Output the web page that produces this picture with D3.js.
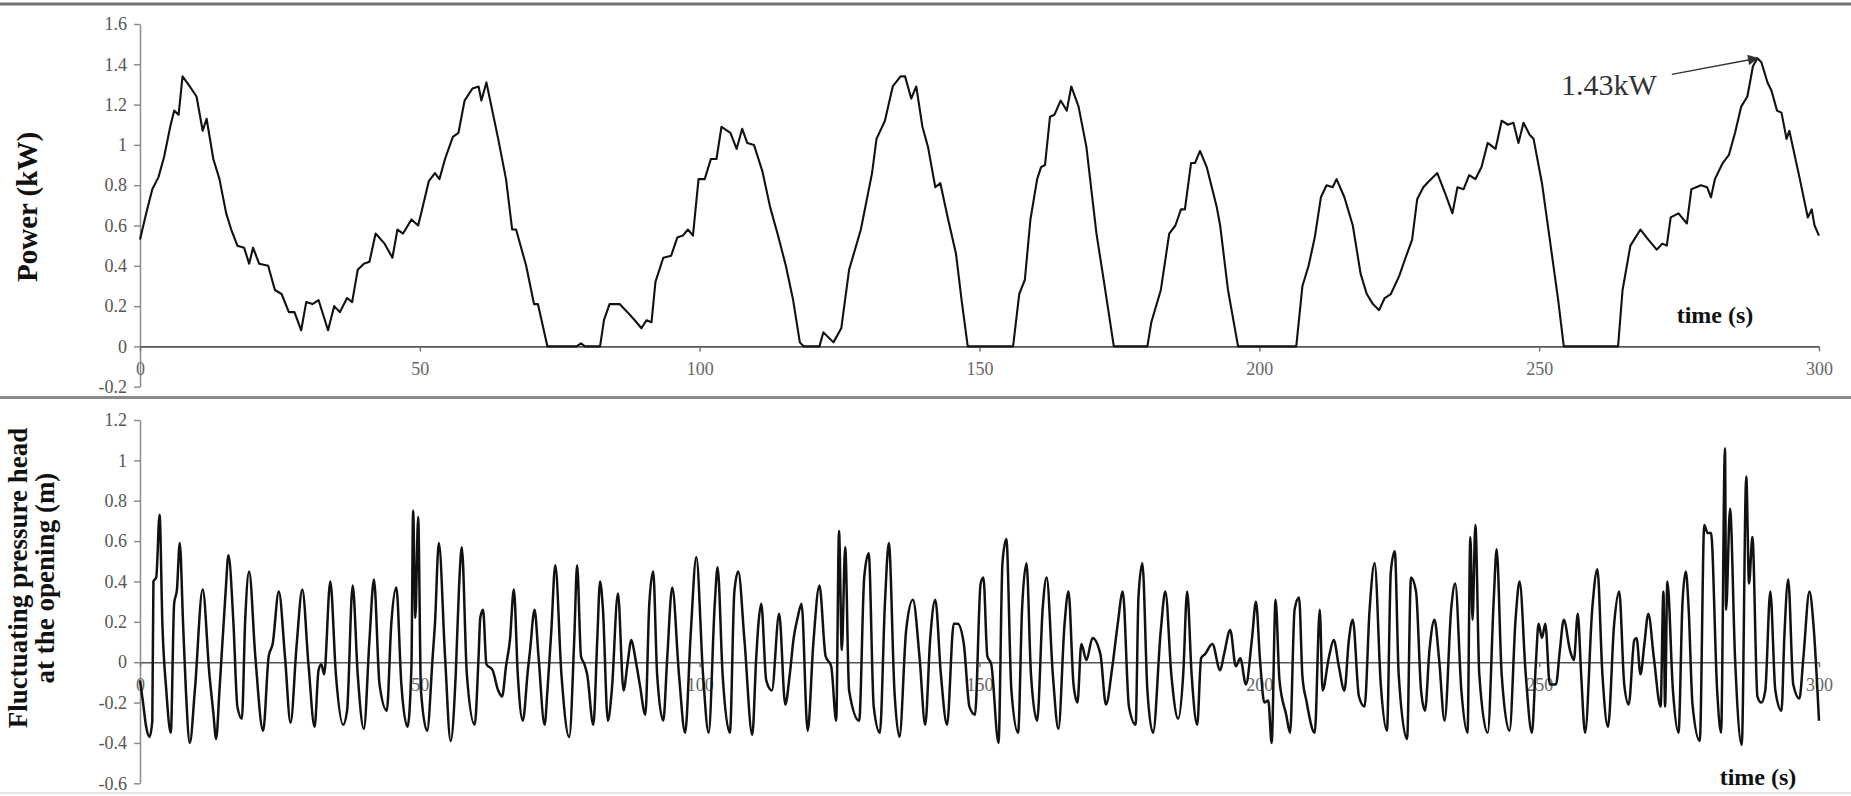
<!DOCTYPE html>
<html><head><meta charset="utf-8">
<script src="https://cdn.jsdelivr.net/npm/d3@7"></script>
<style>
body{margin:0;background:#fff}
svg{display:block}
text{font-family:'Liberation Serif','Times New Roman',Times,serif}
</style>
</head><body>
<svg id="chart" width="1851" height="796"></svg>
<script>
// ---------- data ----------
const xTicks = [0, 50, 100, 150, 200, 250, 300];
const powerYTicks = [-0.2, 0, 0.2, 0.4, 0.6, 0.8, 1, 1.2, 1.4, 1.6];
const pressureYTicks = [-0.6, -0.4, -0.2, 0, 0.2, 0.4, 0.6, 0.8, 1, 1.2];

// [time (s), power (kW)]
const powerReadings = [
[0,0.53],[1.1,0.66],[2.2,0.78],[3.3,0.84],[4.3,0.94],[5.4,1.09],[6.1,1.17],[6.9,1.15],[7.6,1.34],[8.9,1.29],
[10.1,1.24],[11.2,1.07],[11.9,1.13],[13.1,0.93],[14.2,0.83],[15.4,0.66],[16.3,0.58],[17.4,0.50],[18.6,0.49],[19.5,0.41],
[20.2,0.49],[21.3,0.41],[22.9,0.40],[24.1,0.28],[25.3,0.26],[26.6,0.17],[27.6,0.17],[28.8,0.08],[29.7,0.22],[30.8,0.21],
[31.9,0.23],[33.6,0.08],[34.7,0.20],[35.7,0.17],[37.0,0.24],[37.9,0.22],[38.9,0.38],[40.0,0.41],[41.0,0.42],[42.1,0.56],
[43.7,0.51],[45.1,0.44],[46.0,0.58],[47.0,0.56],[48.5,0.63],[49.7,0.60],[50.4,0.68],[51.6,0.82],[52.7,0.86],[53.5,0.83],
[54.5,0.93],[55.9,1.04],[56.9,1.06],[58.0,1.22],[59.4,1.28],[60.5,1.29],[61.0,1.22],[61.9,1.31],[64.0,1.03],[65.4,0.83],
[66.5,0.58],[67.2,0.58],[69.0,0.40],[70.4,0.21],[71.1,0.21],[72.8,0],[78.0,0],[78.8,0.015],[79.5,0],[82.2,0],
[82.9,0.13],[83.9,0.21],[85.7,0.21],[87.1,0.17],[88.4,0.13],[89.6,0.09],[90.5,0.13],[91.4,0.12],[92.1,0.32],[93.5,0.44],
[94.9,0.45],[96.0,0.54],[97.0,0.55],[97.9,0.58],[98.8,0.55],[99.8,0.83],[100.9,0.83],[102.0,0.93],[103.0,0.93],[103.9,1.09],
[105.5,1.06],[106.6,0.98],[107.6,1.08],[108.5,1.01],[109.7,1.00],[111.2,0.87],[112.6,0.69],[114.0,0.55],[115.4,0.40],[116.7,0.23],
[117.9,0.02],[118.6,0],[121.4,0],[122.1,0.07],[123.9,0.02],[125.3,0.09],[126.7,0.38],[128.8,0.58],[130.8,0.86],[131.6,1.03],
[133.1,1.12],[134.5,1.29],[135.9,1.34],[136.7,1.34],[137.8,1.23],[138.7,1.29],[139.8,1.09],[140.8,0.99],[142.1,0.79],[143.0,0.81],
[144.4,0.63],[145.8,0.46],[146.8,0.23],[147.9,0],[156.0,0],[157.1,0.26],[158.1,0.33],[159.1,0.63],[160.3,0.83],[161.0,0.89],
[161.7,0.90],[162.6,1.14],[163.4,1.15],[164.5,1.22],[165.6,1.17],[166.4,1.29],[167.7,1.19],[169.1,0.99],[170.9,0.56],[172.3,0.31],
[174.0,0],[180.0,0],[180.7,0.12],[182.4,0.28],[183.9,0.56],[185.0,0.60],[186.0,0.68],[186.7,0.68],[187.8,0.91],[188.5,0.91],
[189.4,0.97],[190.6,0.89],[192.4,0.69],[193.0,0.60],[194.4,0.28],[196.2,0],[206.6,0],[207.7,0.30],[208.8,0.40],[209.9,0.54],
[211.0,0.74],[212.0,0.80],[213.1,0.79],[213.8,0.83],[215.2,0.74],[216.7,0.60],[218.1,0.36],[219.2,0.26],[220.3,0.21],[221.4,0.18],
[222.4,0.24],[223.5,0.26],[225.0,0.35],[226.0,0.43],[227.3,0.53],[228.2,0.73],[229.3,0.79],[230.3,0.82],[231.8,0.86],[233.2,0.76],
[234.5,0.66],[235.4,0.79],[236.5,0.78],[237.5,0.85],[238.6,0.83],[239.7,0.89],[240.8,1.01],[242.2,0.98],[243.3,1.12],[244.4,1.10],
[245.4,1.11],[246.3,1.01],[247.2,1.11],[248.3,1.05],[249.0,1.03],[250.5,0.81],[251.9,0.53],[253.4,0.23],[254.4,0],[264.1,0],
[264.9,0.28],[266.3,0.50],[268.1,0.58],[269.5,0.53],[271.0,0.48],[272.0,0.51],[272.8,0.50],[273.5,0.64],[274.9,0.66],[276.4,0.61],
[277.2,0.78],[278.9,0.80],[280.0,0.79],[280.7,0.74],[281.4,0.83],[282.8,0.91],[283.9,0.95],[285.0,1.06],[286.1,1.19],[287.2,1.24],
[288.2,1.39],[289.0,1.43],[289.7,1.41],[290.8,1.31],[291.5,1.27],[292.5,1.17],[293.3,1.16],[294.2,1.03],[294.7,1.07],[296.5,0.84],
[298.0,0.64],[298.7,0.68],[299.2,0.60],[300,0.55]
];

// [time (s), fluctuating pressure head (m)]
const pressureReadings = [
[0,-0.09],[0.5,-0.19],[1.1,-0.32],[1.7,-0.37],[2.2,-0.29],[2.4,0.40],[2.9,0.42],[3.5,0.73],[4.0,0.19],[4.7,-0.14],
[5.5,-0.35],[6.1,0.29],[6.6,0.36],[7.1,0.59],[7.7,0.19],[8.2,-0.14],[8.9,-0.40],[9.8,-0.14],[11.2,0.36],[12.4,-0.06],
[13.1,-0.25],[13.6,-0.38],[14.2,-0.14],[15.3,0.35],[15.8,0.53],[16.7,0.19],[17.4,-0.22],[18.2,-0.28],[18.8,0.21],[19.5,0.45],
[20.6,0.03],[22.0,-0.34],[23.0,0.03],[23.7,0.09],[24.8,0.35],[25.9,0.03],[26.9,-0.30],[28.0,0.09],[29.0,0.36],[30.1,-0.01],
[31.2,-0.32],[31.9,-0.04],[32.4,-0.01],[32.9,-0.06],[34.0,0.40],[35.0,-0.06],[36.3,-0.31],[37.0,-0.24],[38.0,0.38],[38.9,-0.06],
[40.0,-0.33],[41.0,0.11],[41.8,0.41],[42.8,-0.11],[44.1,-0.24],[44.9,0.19],[45.8,0.37],[46.7,-0.11],[47.8,-0.32],[48.5,-0.02],
[48.8,0.75],[49.2,0.22],[49.7,0.72],[50.2,-0.14],[51.3,-0.34],[52.3,0.03],[52.7,0.19],[53.4,0.59],[54.5,0.03],[55.5,-0.39],
[56.4,-0.07],[57.0,0.37],[57.5,0.57],[58.4,-0.06],[59.8,-0.31],[60.5,0.03],[60.8,0.22],[61.3,0.26],[61.9,-0.01],[63.0,-0.04],
[64.0,-0.14],[64.7,-0.17],[65.4,-0.02],[66.1,0.11],[66.8,0.36],[67.5,-0.06],[68.4,-0.29],[69.3,-0.04],[69.7,0.06],[70.5,0.26],
[71.2,0.03],[72.3,-0.31],[72.8,-0.14],[73.5,0.16],[74.2,0.48],[75.3,-0.06],[76.7,-0.37],[77.6,0.12],[78.1,0.48],[78.8,0.03],
[79.4,-0.01],[79.9,-0.06],[81.0,-0.31],[81.7,0.11],[82.2,0.40],[82.7,0.27],[83.6,-0.29],[84.3,-0.14],[85.4,0.34],[86.4,-0.14],
[87.1,-0.01],[87.8,0.11],[88.5,0.02],[89.3,-0.11],[90.3,-0.26],[91.0,0.29],[91.7,0.45],[92.4,-0.06],[93.5,-0.29],[94.2,0.02],
[95.1,0.37],[96.3,-0.06],[97.4,-0.35],[98.4,0.14],[99.4,0.52],[100.6,-0.06],[101.6,-0.35],[102.7,0.29],[103.2,0.47],[104.1,-0.06],
[105.4,-0.35],[106.2,0.35],[106.9,0.45],[108.0,0.11],[109.4,-0.36],[110.1,0.02],[110.5,0.19],[111.0,0.29],[111.9,-0.09],[112.9,-0.14],
[114.2,0.24],[115.3,-0.21],[116.1,-0.06],[116.8,0.12],[117.5,0.22],[118.2,0.29],[119.3,-0.34],[120.3,0.09],[121.4,0.38],[122.5,0.03],
[123.5,-0.02],[124.4,-0.29],[124.9,0.65],[125.4,0.06],[126.0,0.57],[126.7,-0.14],[128.5,-0.29],[129.4,0.42],[130.2,0.54],[131.1,-0.22],
[132.2,-0.35],[133.1,0.29],[133.8,0.59],[134.8,-0.14],[135.7,-0.37],[136.9,0.16],[138.1,0.31],[139.3,0.02],[140.3,-0.31],[141.2,0.12],
[142.1,0.31],[143.1,-0.06],[144.2,-0.31],[145.4,0.19],[146.1,0.19],[147.2,0.09],[148.2,-0.22],[149.2,-0.26],[150.2,0.39],[150.7,0.42],
[151.4,0.03],[152.1,-0.01],[153.4,-0.40],[154.1,0.49],[154.8,0.61],[155.7,-0.14],[156.9,-0.35],[157.6,0.26],[158.4,0.49],[159.2,-0.06],
[160.3,-0.29],[161.3,0.27],[162.0,0.42],[163.1,-0.06],[164.1,-0.33],[165.2,0.19],[165.9,0.35],[166.8,-0.11],[167.5,-0.20],[168.2,0.09],
[169.1,0.01],[170.2,0.12],[171.6,0.04],[172.6,-0.21],[173.7,-0.03],[174.7,0.19],[175.6,0.35],[176.7,-0.22],[177.9,-0.31],[178.4,0.32],
[179.1,0.49],[180.0,-0.14],[181.0,-0.35],[182.4,0.16],[183.2,0.35],[184.3,-0.07],[185.5,-0.28],[186.4,-0.06],[187.1,0.35],[187.9,-0.06],
[188.9,-0.31],[189.6,0.02],[190.3,0.04],[191.6,0.09],[193.0,-0.04],[193.7,0.04],[194.8,0.16],[195.8,-0.02],[196.6,0.02],[197.6,-0.11],
[198.7,0.12],[199.4,0.30],[200.1,0.02],[200.9,-0.20],[201.6,-0.19],[202.2,-0.40],[202.9,0.31],[203.6,-0.09],[204.8,-0.26],[205.5,-0.35],
[206.3,0.26],[207.1,0.32],[207.7,-0.07],[208.4,-0.19],[209.9,-0.35],[210.8,0.26],[211.3,-0.14],[212.4,0.02],[213.3,0.11],[214.2,-0.02],
[215.2,-0.14],[216.0,0.11],[216.7,0.21],[217.8,-0.17],[218.8,-0.22],[219.7,0.26],[220.6,0.49],[221.7,-0.11],[222.8,-0.34],[223.5,0.45],
[224.2,0.55],[224.9,-0.06],[226.4,-0.38],[227.1,0.42],[228.0,0.35],[228.9,-0.14],[229.6,-0.24],[230.4,0.06],[231.3,0.21],[232.1,0.02],
[233.1,-0.29],[234.3,0.27],[235.0,0.39],[236.1,-0.14],[237.2,-0.35],[237.7,0.62],[238.1,0.21],[238.6,0.68],[239.3,-0.06],[240.8,-0.35],
[241.9,0.32],[242.4,0.56],[243.3,-0.06],[244.7,-0.34],[245.8,0.22],[246.5,0.40],[247.6,-0.06],[248.7,-0.35],[249.4,-0.01],[249.9,0.19],
[250.5,0.12],[251.1,0.19],[251.9,-0.11],[253.0,-0.11],[253.7,0.06],[254.4,0.21],[255.5,0.06],[256.2,0.01],[256.9,0.24],[257.5,-0.06],
[258.2,-0.35],[259.5,0.27],[260.4,0.46],[261.3,-0.06],[262.3,-0.32],[263.4,0.19],[264.3,0.35],[265.2,-0.11],[266.0,-0.21],[267.0,0.11],
[267.4,0.12],[268.1,-0.06],[268.8,0.09],[269.5,0.24],[270.5,0.02],[271.7,-0.22],[272.2,0.35],[272.5,-0.22],[272.9,0.40],[273.9,-0.14],
[274.9,-0.35],[275.6,0.29],[276.2,0.45],[276.7,0.27],[277.4,-0.21],[278.7,-0.39],[279.5,0.68],[280.1,0.64],[280.7,0.64],[281.8,-0.14],
[282.5,-0.35],[283.2,1.06],[283.4,0.26],[284.1,0.76],[285.0,0.02],[286.2,-0.41],[287.0,0.92],[287.5,0.39],[288.1,0.62],[289.0,-0.17],
[289.7,-0.20],[290.4,-0.14],[291.3,0.35],[292.2,-0.14],[293.3,-0.24],[293.8,0.12],[294.5,0.41],[295.4,-0.11],[296.5,-0.18],[297.2,0.02],
[298.3,0.35],[299.0,0.19],[300,-0.29]
];

const peakNote = {label: "1.43kW", t: 289, v: 1.43, fromT: 273.7, fromV: 1.35, textT: 253.9, textV: 1.25};

// ---------- drawing ----------
const svg = d3.select("#chart");
const fmt = d => String(+d.toFixed(1));
const serif = "'Liberation Serif','Times New Roman',Times,serif";

const x = d3.scaleLinear().domain([0, 300]).range([140, 1819]);
const yPow = d3.scaleLinear().domain([-0.2, 1.6]).range([386.7, 24]);
const yPre = d3.scaleLinear().domain([-0.6, 1.2]).range([783.3, 420]);

// frame lines
svg.append("line").attr("x1",0).attr("x2",1851).attr("y1",4).attr("y2",4).attr("stroke","#707070").attr("stroke-width",3);
svg.append("line").attr("x1",0).attr("x2",1851).attr("y1",397.5).attr("y2",397.5).attr("stroke","#8a8a8a").attr("stroke-width",3);
svg.append("line").attr("x1",0).attr("x2",1851).attr("y1",793).attr("y2",793).attr("stroke","#e6e6e6").attr("stroke-width",2);

function yAxis(scale, ticks) {
  const g = svg.append("g").attr("transform", "translate(140,0)")
    .call(d3.axisLeft(scale).tickValues(ticks).tickFormat(fmt).tickSize(6).tickSizeOuter(0).tickPadding(7));
  g.attr("font-family", serif).attr("font-size", 18);
  g.select(".domain").attr("stroke", "#8c8c8c").attr("stroke-width", 1.5);
  g.selectAll(".tick line").attr("stroke", "#8c8c8c").attr("stroke-width", 1.5);
  g.selectAll(".tick text").attr("fill", "#555");
  return g;
}
function xAxis(yScale) {
  const g = svg.append("g").attr("transform", `translate(0,${yScale(0)})`)
    .call(d3.axisBottom(x).tickValues(xTicks).tickFormat(d3.format("d")).tickSize(5).tickSizeOuter(0));
  g.attr("font-family", serif).attr("font-size", 18);
  g.select(".domain").attr("stroke", "#555").attr("stroke-width", 1.6);
  g.selectAll(".tick line").attr("stroke", "#777").attr("stroke-width", 1.5);
  g.selectAll(".tick text").attr("fill", "#666").attr("y", 29).attr("dy", 0);
  return g;
}

// --- top panel: power
yAxis(yPow, powerYTicks);
xAxis(yPow);
svg.append("path").datum(powerReadings)
  .attr("fill", "none").attr("stroke", "#111").attr("stroke-width", 2.1).attr("stroke-linejoin", "round")
  .attr("d", d3.line().x(d => x(d[0])).y(d => yPow(d[1])));

svg.append("text").attr("transform", "translate(37,207) rotate(-90)")
  .attr("text-anchor", "middle").attr("font-weight", "bold").attr("font-size", 29).attr("fill", "#111")
  .text("Power (kW)");
svg.append("text").attr("x", 1715).attr("y", 323).attr("text-anchor", "middle")
  .attr("font-weight", "bold").attr("font-size", 24).attr("fill", "#111").text("time (s)");

// annotation
svg.append("defs").append("marker").attr("id", "arr").attr("viewBox", "0 0 10 10")
  .attr("refX", 9).attr("refY", 5).attr("markerWidth", 9).attr("markerHeight", 7).attr("orient", "auto")
  .append("path").attr("d", "M0,0 L10,5 L0,10 z").attr("fill", "#333");
svg.append("line")
  .attr("x1", x(peakNote.fromT)).attr("y1", yPow(peakNote.fromV))
  .attr("x2", x(peakNote.t)).attr("y2", yPow(peakNote.v))
  .attr("stroke", "#333").attr("stroke-width", 1.5).attr("marker-end", "url(#arr)");
svg.append("text").attr("x", x(peakNote.textT)).attr("y", yPow(peakNote.textV))
  .attr("font-size", 30).attr("fill", "#333").text(peakNote.label);

// --- bottom panel: pressure head
yAxis(yPre, pressureYTicks);
xAxis(yPre);
svg.append("path").datum(pressureReadings)
  .attr("fill", "none").attr("stroke", "#111").attr("stroke-width", 2.5).attr("stroke-linejoin", "round")
  .attr("d", d3.line().curve(d3.curveMonotoneX).x(d => x(d[0])).y(d => yPre(d[1])));

const lbl = svg.append("text").attr("transform", "translate(0,578) rotate(-90)")
  .attr("text-anchor", "middle").attr("font-weight", "bold").attr("font-size", 27).attr("fill", "#111");
lbl.append("tspan").attr("x", 0).attr("y", 27).text("Fluctuating pressure head");
lbl.append("tspan").attr("x", 0).attr("y", 54).text("at the opening (m)");
svg.append("text").attr("x", 1758).attr("y", 785).attr("text-anchor", "middle")
  .attr("font-weight", "bold").attr("font-size", 24).attr("fill", "#111").text("time (s)");
</script>
</body></html>
